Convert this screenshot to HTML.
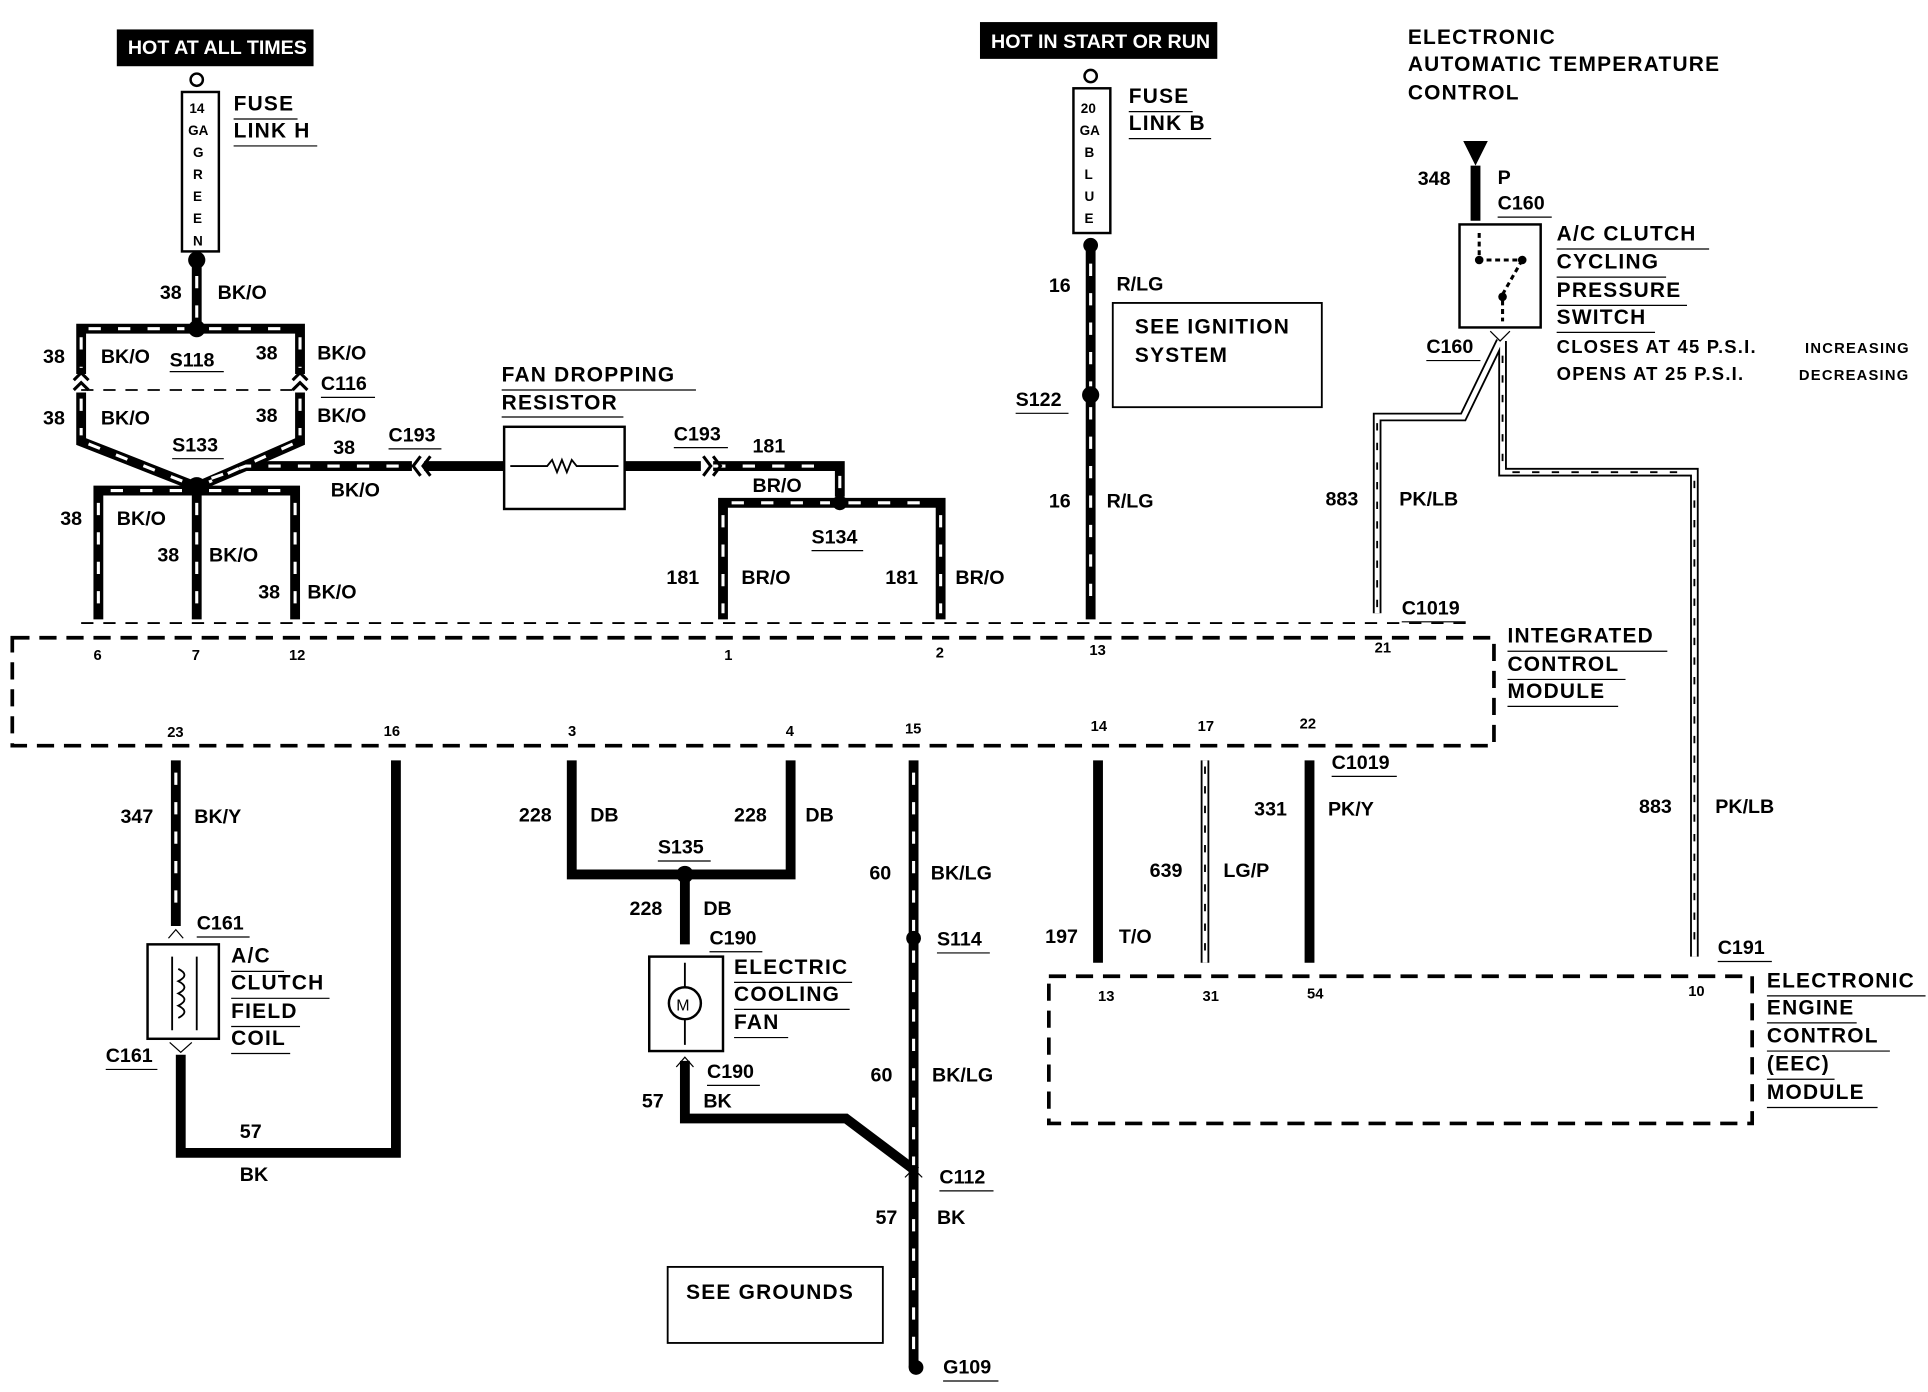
<!DOCTYPE html>
<html><head><style>
html,body{margin:0;padding:0;background:#fff;}
svg{display:block;}
text{font-family:"Liberation Sans",sans-serif;font-weight:bold;fill:#000;}
.t{font-size:17px;letter-spacing:1px;}
.s{font-size:16px;}
.p{font-size:12px;font-weight:normal;}
</style></head><body>
<svg width="1928" height="1392" viewBox="0 0 1568 1135" preserveAspectRatio="none" xmlns="http://www.w3.org/2000/svg">
<g fill="none" stroke="#000" stroke-linejoin="miter">
<g stroke-width="8">
<path d="M160,212 V268 M66,305 V268 H244 V305"/>
<path d="M66,320 V360 L160,397 M244,320 V360 L160,397"/>
<path d="M80,505 V400 H240 V505 M160,400 V505"/>
<path d="M160,397 L200,380 H335"/>
<path d="M345,380 H410 M508,380 H570"/>
<path d="M580,380 H683 V405 M683,410 M588,505 V410 H765 V505"/>
<path d="M887,200 V505"/>
<path d="M1200,135 V180"/>
<path d="M143,620 V755 M147,860 V940 H322 V620"/>
<path d="M465,620 V713 H643 V620 M557,713 V770 M557,865 V912 H688 L745,955"/>
<path d="M743,620 V1115"/>
<path d="M893,620 V785 M1065,620 V785"/>
</g>
<g stroke="#fff" stroke-width="2.5" stroke-dasharray="10 14">
<path d="M160,225 V262 M72,268 H150 M170,268 H238 M66,275 V300 M244,275 V300"/>
<path d="M66,325 V355 M244,325 V355 M72,362 L150,393 M238,362 L170,393"/>
<path d="M80,410 V500 M90,400 H150 M170,400 H232 M240,410 V500 M160,410 V500"/>
<path d="M172,390 L200,380 H330 M580,380 H675 M683,388 V402"/>
<path d="M595,410 H675 M690,410 H760 M588,420 V500 M765,420 V500"/>
<path d="M887,215 V315 M887,332 V500"/>
<path d="M743,630 V760 M743,775 V950 M743,970 V1105"/>
<path d="M143,630 V750"/>
</g>
<g stroke-width="7"><path d="M1220,278 L1190,340 H1120 V500 M1222,278 V385 H1378 V780 M980,620 V785"/></g>
<g stroke="#fff" stroke-width="4"><path d="M1220,278 L1190,340 H1120 V500 M1222,278 V385 H1378 V780 M980,620 V785"/></g>
<g stroke-width="1.5" stroke-dasharray="6 10"><path d="M1120,345 V495 M1222,290 V380 M1230,385 H1372 M1378,392 V775 M980,625 V780"/></g>
<rect x="148" y="75" width="30" height="130" stroke-width="2"/>
<rect x="873" y="72" width="30" height="118" stroke-width="2"/>
<rect x="410" y="348" width="98" height="67" stroke-width="2"/>
<path d="M415,380 H445 l4,-5 4,10 4,-10 4,10 4,-10 4,5 H503" stroke-width="1.5"/>
<rect x="905" y="247" width="170" height="85" stroke-width="1.5"/>
<rect x="543" y="1033" width="175" height="62" stroke-width="1.5"/>
<rect x="1187" y="183" width="66" height="84" stroke-width="2"/>
<path d="M1203,190 V212 L1238,212 M1222,240 L1238,212 M1222,245 V262" stroke-width="2.5" stroke-dasharray="4 3"/>
<rect x="120" y="770" width="58" height="77" stroke-width="2"/>
<path d="M140,780 V840 M160,780 V840 M145,790 q10,5 0,10 q10,5 0,10 q10,5 0,10 q10,5 0,10" stroke-width="1.5"/>
<rect x="528" y="780" width="60" height="77" stroke-width="2"/>
<circle cx="557" cy="818" r="13" stroke-width="2"/>
<path d="M557,785 V805 M557,831 V852" stroke-width="1.5"/>
<rect x="10" y="520" width="1205" height="88" stroke-width="3" stroke-dasharray="14 8"/>
<rect x="853" y="796" width="572" height="120" stroke-width="3" stroke-dasharray="14 8"/>
<path d="M66,508 H1195" stroke-width="1.5" stroke-dasharray="10 8"/>
<path d="M66,318 H244" stroke-width="1.5" stroke-dasharray="10 8"/>
<path d="M60,310 l6,-6 6,6 M238,310 l6,-6 6,6 M60,318 l6,-6 6,6 M238,318 l6,-6 6,6" stroke-width="2.5"/>
<path d="M342,372 l-6,8 6,8 M350,372 l-6,8 6,8 M572,372 l6,8 -6,8 M580,372 l6,8 -6,8" stroke-width="2.5"/>
<path d="M1212,270 l8,8 8,-8 M138,850 l9,8 9,-8 M137,765 l6,-7 6,7 M550,870 l7,-8 7,8 M736,960 l7,-7 7,7"/>
</g>
<g fill="#000">
<circle cx="160" cy="65" r="5" fill="none" stroke="#000" stroke-width="2"/>
<circle cx="887" cy="62" r="5" fill="none" stroke="#000" stroke-width="2"/>
<circle cx="160" cy="212" r="7"/><circle cx="160" cy="268" r="7"/><circle cx="160" cy="397" r="8"/>
<circle cx="683" cy="410" r="6"/><circle cx="887" cy="200" r="6"/><circle cx="887" cy="322" r="7"/>
<circle cx="557" cy="713" r="7"/><circle cx="743" cy="765" r="6"/><circle cx="745" cy="1115" r="6"/>
<circle cx="1203" cy="212" r="3.5"/><circle cx="1238" cy="212" r="3.5"/><circle cx="1222" cy="242" r="3.5"/>
<polygon points="1190,115 1210,115 1200,135"/>
<rect x="95" y="24" width="160" height="30"/><rect x="797" y="18" width="193" height="30"/>
</g>
<text x="104" y="44" class="s" style="fill:#fff">HOT AT ALL TIMES</text>
<text x="806" y="39" class="s" style="fill:#fff">HOT IN START OR RUN</text>
<text x="550" y="824" style="font-size:13px;font-weight:normal">M</text>
<g class="p" style="font-size:11px">
<text x="154" y="92">14</text><text x="153" y="110">GA</text>
<text x="157" y="128">G</text><text x="157" y="146">R</text><text x="157" y="164">E</text><text x="157" y="182">E</text><text x="157" y="200">N</text>
<text x="879" y="92">20</text><text x="878" y="110">GA</text>
<text x="882" y="128">B</text><text x="882" y="146">L</text><text x="882" y="164">U</text><text x="882" y="182">E</text>
</g>
<g class="t">
<text x="190" y="90">FUSE</text><text x="190" y="112">LINK H</text>
<text x="918" y="84">FUSE</text><text x="918" y="106">LINK B</text>
<text x="1145" y="36">ELECTRONIC</text><text x="1145" y="58">AUTOMATIC TEMPERATURE</text><text x="1145" y="81">CONTROL</text>
<text x="408" y="311">FAN DROPPING</text><text x="408" y="334">RESISTOR</text>
<text x="923" y="272">SEE IGNITION</text><text x="923" y="295">SYSTEM</text>
<text x="1266" y="196">A/C CLUTCH</text><text x="1266" y="219">CYCLING</text><text x="1266" y="242">PRESSURE</text><text x="1266" y="264">SWITCH</text>
<text x="1226" y="524">INTEGRATED</text><text x="1226" y="547">CONTROL</text><text x="1226" y="569">MODULE</text>
<text x="1437" y="805">ELECTRONIC</text><text x="1437" y="827">ENGINE</text><text x="1437" y="850">CONTROL</text><text x="1437" y="873">(EEC)</text><text x="1437" y="896">MODULE</text>
<text x="188" y="785">A/C</text><text x="188" y="807">CLUTCH</text><text x="188" y="830">FIELD</text><text x="188" y="852">COIL</text>
<text x="597" y="794">ELECTRIC</text><text x="597" y="816">COOLING</text><text x="597" y="839">FAN</text>
<text x="558" y="1059">SEE GROUNDS</text>
</g>
<g style="font-size:15px;font-weight:normal;letter-spacing:1px">
<text x="1266" y="288">CLOSES AT 45 P.S.I.</text><text x="1468" y="288" style="font-size:12px">INCREASING</text>
<text x="1266" y="310">OPENS AT 25 P.S.I.</text><text x="1463" y="310" style="font-size:12px">DECREASING</text>
</g>
<g class="s">
<text x="130" y="244">38</text><text x="177" y="244">BK/O</text>
<text x="35" y="296">38</text><text x="82" y="296">BK/O</text><text x="138" y="299">S118</text><text x="208" y="293">38</text><text x="258" y="293">BK/O</text><text x="261" y="318">C116</text>
<text x="35" y="346">38</text><text x="82" y="346">BK/O</text><text x="208" y="344">38</text><text x="258" y="344">BK/O</text>
<text x="140" y="368">S133</text><text x="271" y="370">38</text><text x="316" y="360">C193</text><text x="269" y="405">BK/O</text>
<text x="49" y="428">38</text><text x="95" y="428">BK/O</text><text x="128" y="458">38</text><text x="170" y="458">BK/O</text><text x="210" y="488">38</text><text x="250" y="488">BK/O</text>
<text x="548" y="359">C193</text><text x="612" y="369">181</text><text x="612" y="401">BR/O</text><text x="660" y="443">S134</text>
<text x="542" y="476">181</text><text x="603" y="476">BR/O</text><text x="720" y="476">181</text><text x="777" y="476">BR/O</text>
<text x="853" y="238">16</text><text x="908" y="237">R/LG</text><text x="826" y="331">S122</text><text x="853" y="414">16</text><text x="900" y="414">R/LG</text>
<text x="1153" y="151">348</text><text x="1218" y="150">P</text><text x="1218" y="171">C160</text><text x="1160" y="288">C160</text>
<text x="1078" y="412">883</text><text x="1138" y="412">PK/LB</text><text x="1140" y="501">C1019</text>
<text x="1083" y="627">C1019</text><text x="1020" y="665">331</text><text x="1080" y="665">PK/Y</text>
<text x="1333" y="663">883</text><text x="1395" y="663">PK/LB</text><text x="1397" y="778">C191</text>
<text x="935" y="715">639</text><text x="995" y="715">LG/P</text><text x="850" y="769">197</text><text x="910" y="769">T/O</text>
<text x="98" y="671">347</text><text x="158" y="671">BK/Y</text><text x="160" y="758">C161</text><text x="86" y="866">C161</text>
<text x="195" y="928">57</text><text x="195" y="963">BK</text>
<text x="422" y="670">228</text><text x="480" y="670">DB</text><text x="597" y="670">228</text><text x="655" y="670">DB</text>
<text x="535" y="696">S135</text><text x="512" y="746">228</text><text x="572" y="746">DB</text><text x="577" y="770">C190</text>
<text x="575" y="879">C190</text><text x="572" y="903">BK</text><text x="522" y="903">57</text>
<text x="707" y="717">60</text><text x="757" y="717">BK/LG</text><text x="762" y="771">S114</text>
<text x="708" y="882">60</text><text x="758" y="882">BK/LG</text><text x="764" y="965">C112</text>
<text x="712" y="998">57</text><text x="762" y="998">BK</text><text x="767" y="1120">G109</text>
</g>
<g class="p">
<text x="76" y="538">6</text><text x="156" y="538">7</text><text x="235" y="538">12</text><text x="589" y="538">1</text><text x="761" y="536">2</text><text x="886" y="534">13</text><text x="1118" y="532">21</text>
<text x="136" y="601">23</text><text x="312" y="600">16</text><text x="462" y="600">3</text><text x="639" y="600">4</text><text x="736" y="598">15</text><text x="887" y="596">14</text><text x="974" y="596">17</text><text x="1057" y="594">22</text>
<text x="893" y="816">13</text><text x="978" y="816">31</text><text x="1063" y="814">54</text><text x="1373" y="812">10</text>
</g>
<g stroke="#000" stroke-width="1">
<path d="M190,97 H242 M190,119 H258 M918,91 H970 M918,113 H985 M408,318 H566 M408,340 H507 M1266,203 H1390 M1266,226 H1355 M1266,249 H1372 M1266,271 H1346 M1226,531 H1356 M1226,554 H1322 M1226,576 H1316 M1437,812 H1566 M1437,834 H1510 M1437,857 H1537 M1437,880 H1492 M1437,903 H1527 M188,792 H231 M188,814 H268 M188,837 H244 M188,859 H236 M597,801 H693 M597,823 H691 M597,846 H641 M138,303 H182 M140,374 H182 M660,449 H702 M826,337 H869 M1160,294 H1204 M1218,177 H1262 M1140,507 H1192 M1083,633 H1136 M1397,784 H1441 M160,764 H203 M86,872 H128 M535,702 H578 M577,776 H620 M575,885 H618 M762,777 H805 M764,971 H808 M767,1126 H812 M261,324 H305 M316,366 H359 M548,365 H592"/>
</g>
</svg>
</body></html>
